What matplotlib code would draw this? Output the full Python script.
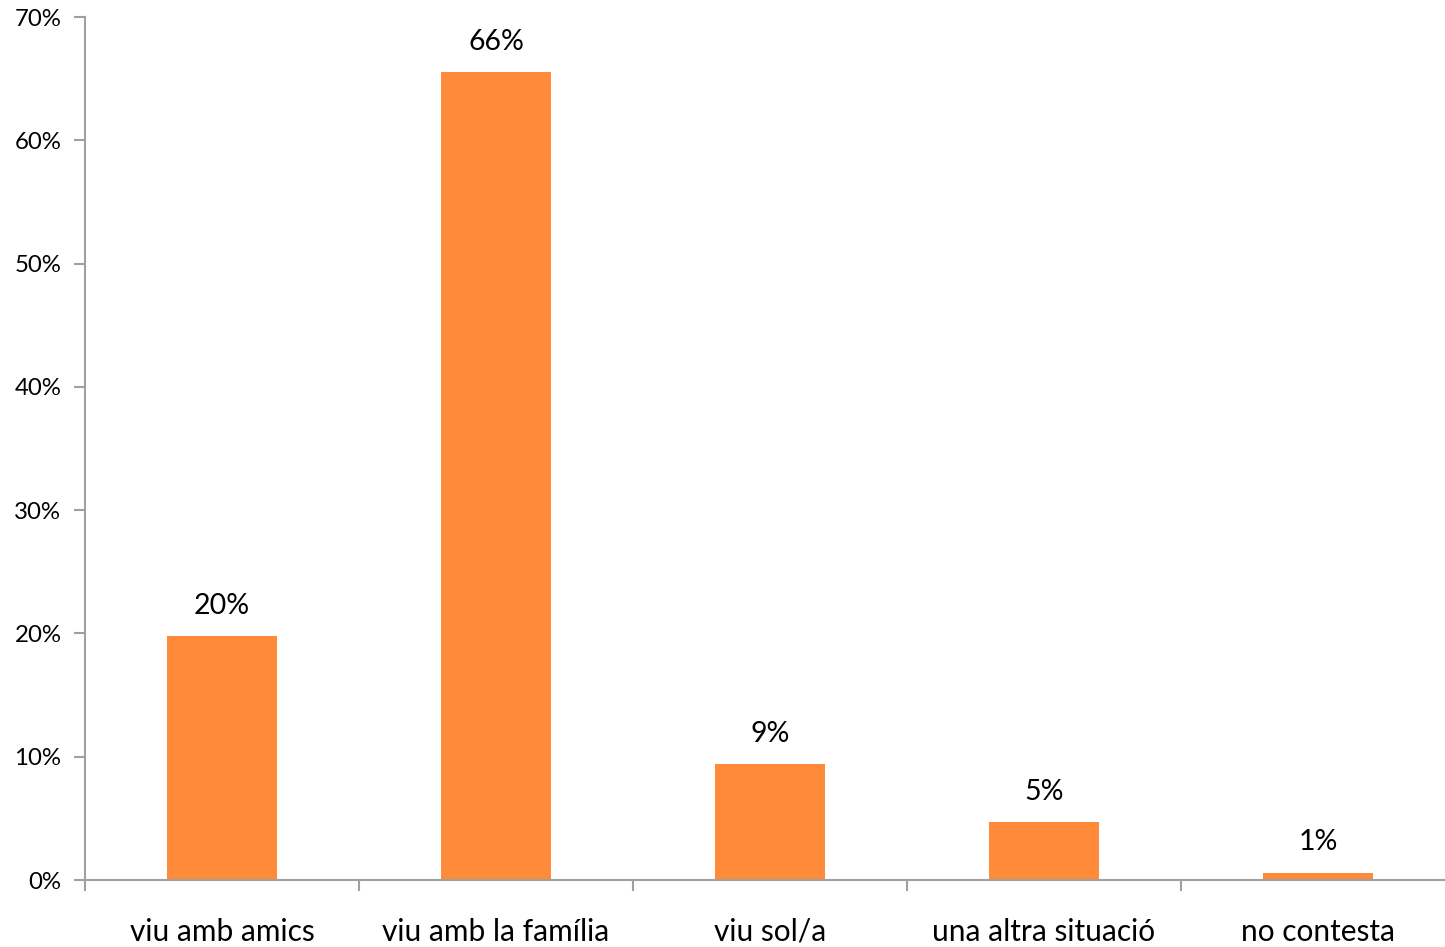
import matplotlib
matplotlib.use('Agg')
import matplotlib.pyplot as plt
from matplotlib.ticker import FuncFormatter

categories = ['viu amb amics', 'viu amb la família', 'viu sol/a', 'una altra situació', 'no contesta']
values = [19.8, 65.5, 9.4, 4.7, 0.6]
labels = ['20%', '66%', '9%', '5%', '1%']

plt.rcParams['font.family'] = ['Lato', 'DejaVu Sans']

fig = plt.figure(figsize=(14.45, 9.47), dpi=100)
ax = fig.add_axes([85 / 1445, 1 - 880 / 947, 1370 / 1445, 863 / 947])

x = range(len(categories))
bars = ax.bar(x, values, width=0.40, color='#FF8A3A', zorder=2)
for b, lab in zip(bars, labels):
    ax.text(b.get_x() + b.get_width() / 2, b.get_height() + 1.4, lab,
            ha='center', va='bottom', fontsize=20.5, color='black')

ax.set_xlim(-0.5, 4.5)
ax.set_ylim(0, 70)
ax.set_yticks(range(0, 71, 10))
ax.yaxis.set_major_formatter(FuncFormatter(lambda v, p: f'{int(v)}%'))
ax.set_xticks([i - 0.5 for i in range(5)], minor=False)
ax.set_xticklabels([])
ax.set_xticks(list(x), minor=True)
ax.set_xticklabels(categories, minor=True)
ax.tick_params(axis='x', which='minor', length=0, pad=27, labelsize=21.5)
ax.tick_params(axis='x', which='major', length=8, color='#A0A0A0', width=1.5)
ax.tick_params(axis='y', length=8, color='#A0A0A0', width=1.5, labelsize=17.3, pad=9)

for s in ['top', 'right']:
    ax.spines[s].set_visible(False)
for s in ['left', 'bottom']:
    ax.spines[s].set_color('#A0A0A0')
    ax.spines[s].set_linewidth(1.5)

fig.savefig('out.png', dpi=100)
